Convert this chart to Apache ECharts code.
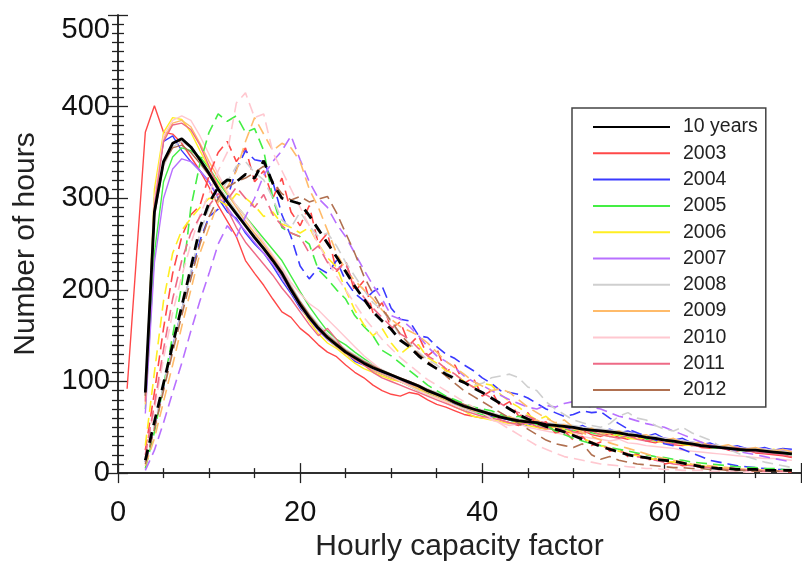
<!DOCTYPE html>
<html>
<head>
<meta charset="utf-8">
<script src="https://cdn.jsdelivr.net/npm/echarts@6/dist/echarts.min.js"></script>
<style>html,body{margin:0;padding:0;background:#fff;}#c{width:802px;height:567px;}</style>
</head>
<body>
<div id="c"></div>
<script>
// x values: hourly capacity factor bins
var xs = [1,2,3,4,5,6,7,8,9,10,11,12,13,14,15,16,17,18,19,20,21,22,23,24,25,26,27,28,29,30,31,32,33,34,35,36,37,38,39,40,41,42,43,44,45,46,47,48,49,50,51,52,53,54,55,56,57,58,59,60,61,62,63,64,65,66,67,68,69,70,71,72,73,74];

var legendNames = ['10 years','2003','2004','2005','2006','2007','2008','2009','2010','2011','2012'];
var xTicks = [0,20,40,60];
var yTicks = [0,100,200,300,400,500];

// 10-year averages
var tenYearsSolid = [null,null,88,285,340,360,365,356,342,327,310,296,283,270,257,245,232,218,200,184,170,158,148,140,132,126,120,115,111,107,103,99,95,90,86,82,77,73,70,67,64,61,59,57,56,55,53,52,51,50,48,47,46,45,44,42,41,39,38,36,35,33,32,30,29,28,27,26,25,25,24,23,22,21];
var tenYearsDashed = [null,null,14,56,98,140,182,224,268,295,312,320,318,326,322,341,316,300,297,294,281,266,251,236,220,204,190,176,166,157,145,138,128,120,114,108,103,99,93,88,82,76,70,64,59,55,51,48,45,41,37,33,29,26,23,20,18,17,15,14,13,11,9,7,6,5,5,4,4,4,3,3,3,3];

// single years, solid
var s2003 = [92,232,372,401,372,370,360,345,330,312,292,275,258,232,218,205,190,176,170,158,150,140,132,127,118,110,104,96,90,86,84,88,86,80,75,72,68,64,62,60,66,58,55,52,57,50,48,51,45,44,47,42,40,43,39,37,40,35,33,36,31,30,32,28,27,29,25,24,26,22,21,20,19,17];
var s2004 = [null,null,85,300,362,368,352,340,330,318,300,285,278,262,250,240,226,210,196,180,168,156,146,138,131,122,118,112,108,104,100,96,92,88,84,80,75,70,68,66,62,60,58,55,52,55,50,53,50,48,52,47,45,48,44,46,42,40,43,38,36,38,33,31,33,29,28,30,27,26,28,25,27,26];
var s2005 = [null,null,70,240,318,345,355,352,345,333,318,304,292,280,268,256,244,232,215,198,182,168,155,146,140,132,125,118,112,106,100,95,90,87,84,80,76,70,66,64,60,62,58,55,57,53,50,52,48,46,49,44,42,45,41,39,42,37,35,37,33,32,30,32,28,27,29,25,24,26,23,22,21,20];
var s2006 = [null,null,82,310,372,388,386,372,352,333,315,298,285,272,258,246,232,214,198,182,166,152,142,136,128,120,114,110,106,102,100,96,92,86,82,78,72,68,62,60,58,56,54,56,52,50,48,50,46,45,43,46,42,40,42,38,37,39,35,33,35,31,30,32,28,30,26,28,25,27,24,26,23,22];
var s2007 = [null,null,65,230,300,332,343,340,330,318,302,290,276,264,252,240,228,214,198,182,168,156,146,139,131,125,119,114,110,106,102,97,93,89,85,81,78,74,71,68,65,62,60,58,57,56,54,53,52,51,49,48,47,46,45,43,42,41,39,38,37,35,34,32,31,30,29,28,27,27,26,25,25,24];
var s2008 = [null,null,86,280,335,356,362,355,343,330,313,300,286,273,260,248,236,222,205,188,174,162,152,143,135,129,123,118,113,108,104,100,96,92,88,84,79,75,72,69,66,63,61,59,58,57,55,54,53,52,50,49,48,47,46,44,43,41,40,38,37,35,34,32,31,30,29,28,27,27,26,25,24,23];
var s2009 = [null,null,75,295,365,382,385,378,360,340,322,305,290,275,262,250,236,220,202,186,170,158,147,138,130,124,118,112,108,104,100,96,93,88,84,80,76,72,68,66,63,60,62,57,55,58,52,50,53,48,46,49,44,43,46,41,40,42,37,36,38,33,32,34,30,29,31,27,26,28,25,24,26,23];
var s2010 = [null,null,80,300,368,385,390,385,368,348,326,308,292,280,266,252,238,224,208,196,185,178,168,158,148,138,128,120,112,106,100,95,90,86,82,78,74,70,66,62,58,55,52,54,50,48,46,44,42,44,40,38,37,35,37,33,32,30,29,28,27,25,24,23,22,21,20,19,18,17,16,16,15,14];
var s2011 = [null,null,78,292,362,380,382,375,358,335,312,288,268,252,240,228,216,202,190,176,162,150,158,146,132,124,118,110,104,100,96,92,88,84,80,76,72,68,65,62,60,58,55,53,55,51,49,47,50,45,43,46,42,40,38,41,37,35,37,33,32,34,30,29,31,27,26,28,24,23,22,21,20,18];
var s2012 = [null,null,84,282,338,355,358,350,338,325,310,296,284,271,258,246,234,220,203,187,173,160,150,142,134,128,122,117,112,108,104,100,96,91,87,83,79,75,71,68,65,62,60,58,57,55,54,52,51,50,48,47,46,45,43,42,41,39,38,36,35,34,32,31,30,29,28,27,26,25,24,23,22,21];

// single years, dashed
var d2003 = [null,null,25,88,158,218,258,282,292,325,350,362,340,355,318,330,300,322,285,270,292,250,262,220,232,198,210,175,186,158,165,140,150,128,136,110,118,98,104,84,90,72,78,62,66,52,56,44,46,36,40,30,34,24,27,18,21,14,16,10,12,8,9,6,7,4,5,3,4,2,3,2,2,1];
var d2004 = [null,null,12,50,94,138,178,218,254,280,288,300,332,352,342,340,318,282,258,226,212,224,218,232,210,196,188,198,204,180,168,166,150,148,138,130,125,118,112,104,98,90,88,86,82,76,70,66,62,64,68,66,67,60,54,48,44,40,36,32,30,26,22,18,14,12,10,8,7,6,5,4,4,3];
var d2005 = [null,null,5,45,95,150,205,290,338,372,392,384,390,372,376,352,300,268,262,258,250,222,212,200,190,172,160,150,134,128,120,112,104,96,90,84,80,76,72,70,68,64,60,62,58,54,52,46,42,38,35,32,30,28,26,24,22,20,18,17,15,14,12,11,10,9,8,7,6,6,5,5,4,4];
var d2006 = [null,null,30,110,188,240,265,278,290,300,298,292,305,300,292,280,285,272,268,262,268,250,235,225,200,178,162,150,158,142,130,138,140,126,120,112,108,100,94,98,96,86,78,72,64,58,62,54,48,42,38,34,30,27,24,21,19,17,15,13,12,10,9,8,7,6,5,4,4,3,3,2,2,2];
var d2007 = [null,null,3,25,55,88,120,155,188,218,250,270,258,280,300,325,340,352,368,342,318,300,290,272,258,240,222,205,190,172,168,160,150,138,128,122,115,106,100,96,90,85,80,76,72,70,74,72,76,78,75,72,70,66,62,60,57,54,52,50,46,42,38,34,30,28,26,24,22,20,18,16,14,12];
var d2008 = [null,null,12,52,95,136,178,220,262,290,305,318,335,340,328,320,300,276,268,285,270,258,262,248,230,215,200,186,178,165,150,142,132,124,118,110,104,98,96,98,104,106,108,104,94,90,78,70,64,58,55,52,50,54,62,66,60,58,52,48,46,50,44,40,36,30,26,22,18,15,12,10,8,6];
var d2009 = [null,null,8,38,78,118,160,200,240,268,296,312,330,362,388,370,352,360,355,340,310,290,265,240,222,210,200,190,178,168,160,155,150,142,132,122,115,108,100,95,90,92,88,80,72,66,60,55,58,50,44,40,36,33,30,27,24,21,18,16,14,12,10,9,8,7,6,5,4,4,3,3,2,2];
var d2010 = [null,null,18,70,125,175,215,250,282,305,330,350,404,415,388,392,350,330,310,290,270,250,232,215,200,185,170,158,146,136,126,118,110,102,96,90,84,78,72,66,60,54,48,42,36,30,26,22,18,16,14,12,10,9,8,7,6,5,5,4,4,3,3,3,2,2,2,2,1,1,1,1,1,1];
var d2011 = [null,null,20,75,135,190,232,262,280,292,305,298,312,300,290,304,282,270,262,258,240,248,230,222,228,205,192,180,170,160,152,146,136,128,122,114,108,100,94,88,82,76,70,66,62,58,54,50,46,42,38,34,30,27,24,21,18,16,14,12,10,9,8,7,6,5,4,4,3,3,2,2,2,2];
var d2012 = [null,null,10,48,90,132,172,212,250,280,300,312,318,322,328,335,318,305,298,302,296,299,302,284,262,240,215,196,179,166,152,140,130,122,114,106,98,90,84,78,72,66,60,54,48,42,36,32,30,28,32,20,15,18,14,12,10,9,8,7,6,6,5,5,4,4,3,3,3,2,2,2,2,2];

var yearColors = ['#ff4848','#3a3aff','#44ee44','#ffee22','#b870ff','#cfcfcf','#ffbb6a','#ffc8d0','#ee6a86','#b07050'];
var solids = [s2003,s2004,s2005,s2006,s2007,s2008,s2009,s2010,s2011,s2012];
var dashes = [d2003,d2004,d2005,d2006,d2007,d2008,d2009,d2010,d2011,d2012];

function pairs(vals){
  var out = [];
  for (var i = 0; i < xs.length; i++) out.push([xs[i], vals[i]]);
  return out;
}

var series = [];
series.push({name:'10 years', type:'line', data:pairs(tenYearsSolid), symbol:'none', z:5,
  lineStyle:{color:'#000', width:2.8}, itemStyle:{color:'#000'}});
for (var k = 0; k < 10; k++) {
  series.push({name:legendNames[k+1], type:'line', data:pairs(solids[k]), symbol:'none', z:3,
    lineStyle:{color:yearColors[k], width:1.4}, itemStyle:{color:yearColors[k]}});
}
for (var k2 = 0; k2 < 10; k2++) {
  series.push({name:legendNames[k2+1], type:'line', data:pairs(dashes[k2]), symbol:'none', z:3,
    lineStyle:{color:yearColors[k2], width:1.6, type:[11,6]}, itemStyle:{color:yearColors[k2]}});
}
series.push({name:'10 years', type:'line', data:pairs(tenYearsDashed), symbol:'none', z:5,
  lineStyle:{color:'#000', width:2.8, type:[11,7]}, itemStyle:{color:'#000'}});

var FONT = 'Liberation Sans';
var axisLine = {show:true, lineStyle:{color:'#222', width:1.5}};
var chart = echarts.init(document.getElementById('c'), null, {renderer:'canvas'});
chart.setOption({
  animation:false,
  backgroundColor:'#fff',
  grid:{left:118, right:1, top:15, bottom:80, containLabel:false},
  legend:{
    data:legendNames, orient:'vertical', left:572, top:108,
    itemWidth:77, itemHeight:14, itemGap:6.3,
    padding:[9,8,7,20],
    borderColor:'#444', borderWidth:1.5, backgroundColor:'#fff',
    itemStyle:{opacity:0},
    textStyle:{fontFamily:FONT, fontSize:19.5, color:'#222', lineHeight:14, padding:[0,0,0,8]},
    selectedMode:false
  },
  xAxis:[
    {type:'value', min:0, max:75, interval:20, position:'bottom',
     name:'Hourly capacity factor', nameLocation:'middle', nameGap:44,
     nameTextStyle:{fontFamily:FONT, fontSize:30, color:'#222'},
     axisLine:axisLine,
     axisTick:{show:true, inside:true, length:10, lineStyle:{color:'#222', width:1.3}},
     minorTick:{show:true, splitNumber:4, length:5, lineStyle:{color:'#222', width:1.3}},
     splitLine:{show:false},
     axisLabel:{fontFamily:FONT, fontSize:29, color:'#111', margin:25, showMaxLabel:false,
       formatter:function(v){ return xTicks.indexOf(v) >= 0 ? String(v) : ''; }}},
    {type:'value', min:0, max:75, interval:20, position:'top',
     axisLine:axisLine,
     axisTick:{show:true, inside:true, length:10, lineStyle:{color:'#222', width:1.3}},
     minorTick:{show:true, splitNumber:4, length:5, lineStyle:{color:'#222', width:1.3}},
     splitLine:{show:false}, axisLabel:{show:false}}
  ],
  yAxis:[
    {type:'value', min:0, max:500, interval:100, position:'left',
     name:'Number of hours', nameLocation:'middle', nameGap:77, nameRotate:90,
     nameTextStyle:{fontFamily:FONT, fontSize:30, color:'#222'},
     axisLine:axisLine,
     axisTick:{show:true, inside:true, length:10, lineStyle:{color:'#222', width:1.3}},
     minorTick:{show:true, splitNumber:10, length:6, lineStyle:{color:'#222', width:1.3}},
     splitLine:{show:false},
     axisLabel:{fontFamily:FONT, fontSize:29, color:'#111', margin:8,
       verticalAlignMaxLabel:'top',
       formatter:function(v){ return yTicks.indexOf(v) >= 0 ? String(v) : ''; }}},
    {type:'value', min:0, max:500, interval:100, position:'right',
     axisLine:axisLine,
     axisTick:{show:true, inside:true, length:10, lineStyle:{color:'#222', width:1.3}},
     minorTick:{show:true, splitNumber:10, length:6, lineStyle:{color:'#222', width:1.3}},
     splitLine:{show:false}, axisLabel:{show:false}}
  ],
  series:series
});
</script>
</body>
</html>
